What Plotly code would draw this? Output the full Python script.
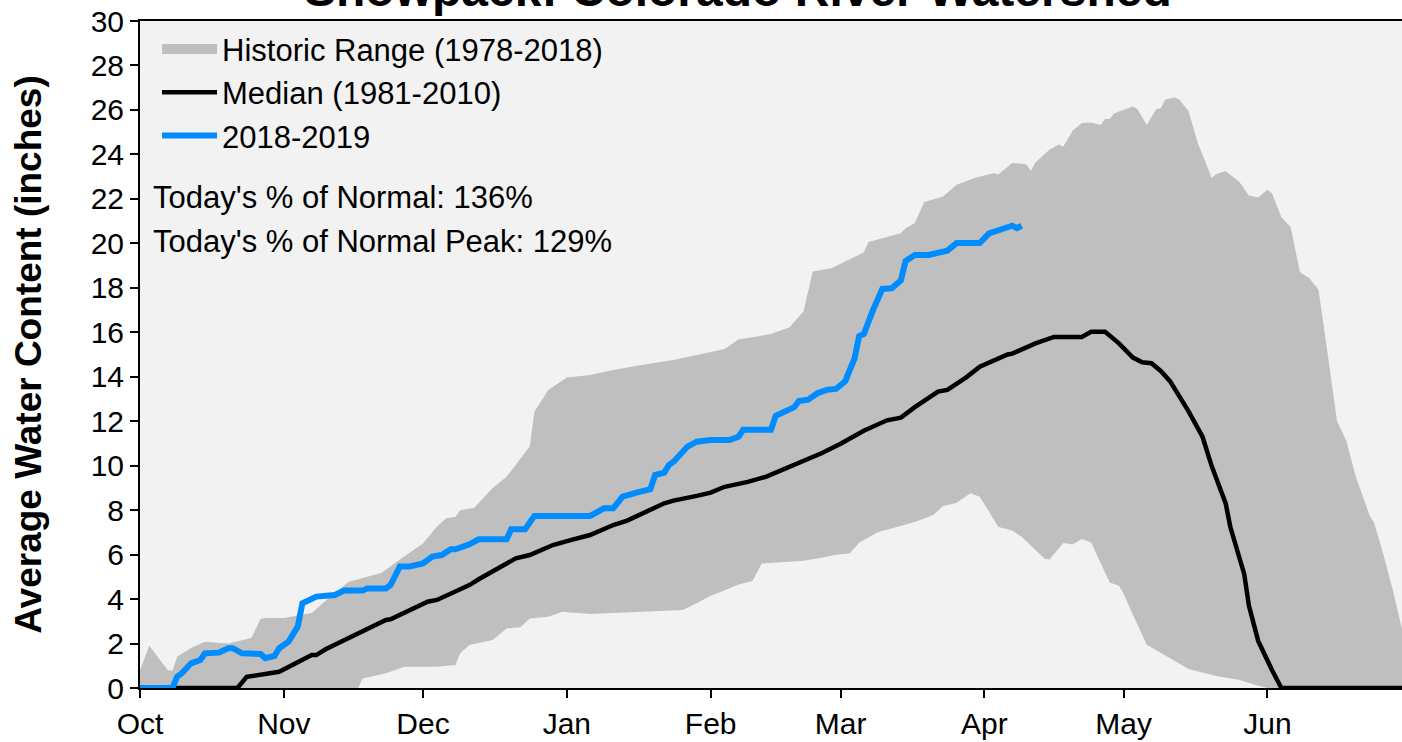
import plotly.graph_objects as go

# ---------------- data ----------------
month_ticks = ["2018-10-01", "2018-11-01", "2018-12-01", "2019-01-01", "2019-02-01",
               "2019-03-01", "2019-04-01", "2019-05-01", "2019-06-01"]
month_labels = ["Oct", "Nov", "Dec", "Jan", "Feb", "Mar", "Apr", "May", "Jun"]

# Historic range upper edge (max)
upper_dates = [
    "2018-10-01", "2018-10-03", "2018-10-07", "2018-10-08", "2018-10-09", "2018-10-12",
    "2018-10-15", "2018-10-20", "2018-10-25", "2018-10-27", "2018-10-28", "2018-11-01",
    "2018-11-07", "2018-11-11", "2018-11-15", "2018-11-22", "2018-11-28", "2018-12-01",
    "2018-12-04", "2018-12-06", "2018-12-08", "2018-12-09", "2018-12-12", "2018-12-16",
    "2018-12-19", "2018-12-21", "2018-12-24", "2018-12-25", "2018-12-28", "2019-01-01",
    "2019-01-06", "2019-01-11", "2019-01-17", "2019-01-24", "2019-01-31", "2019-02-04",
    "2019-02-07", "2019-02-14", "2019-02-18", "2019-02-21", "2019-02-23", "2019-02-27",
    "2019-03-06", "2019-03-07", "2019-03-14", "2019-03-15", "2019-03-17", "2019-03-19",
    "2019-03-23", "2019-03-26", "2019-03-30", "2019-04-03", "2019-04-04", "2019-04-07",
    "2019-04-10", "2019-04-11", "2019-04-12", "2019-04-15", "2019-04-17", "2019-04-18",
    "2019-04-20", "2019-04-22", "2019-04-24", "2019-04-26", "2019-04-27", "2019-04-28",
    "2019-04-29", "2019-05-02", "2019-05-03", "2019-05-04", "2019-05-06", "2019-05-08",
    "2019-05-09", "2019-05-10", "2019-05-12", "2019-05-13", "2019-05-15", "2019-05-17",
    "2019-05-20", "2019-05-21", "2019-05-23", "2019-05-26", "2019-05-28", "2019-05-30",
    "2019-06-01", "2019-06-02", "2019-06-04", "2019-06-06", "2019-06-08", "2019-06-10",
    "2019-06-12", "2019-06-14", "2019-06-16", "2019-06-18", "2019-06-20", "2019-06-23",
    "2019-06-24", "2019-06-26", "2019-06-28", "2019-06-30",
]
upper_vals = [
    0.8, 1.9, 0.8, 0.78, 1.4, 1.8,
    2.08, 2.0, 2.25, 3.1, 3.15, 3.15,
    3.37, 4.1, 4.78, 5.17, 6.07, 6.5,
    7.26, 7.64, 7.7, 8.0, 8.1, 9.0,
    9.5, 10.03, 10.86, 12.43, 13.4, 13.96,
    14.08, 14.3, 14.53, 14.75, 15.05, 15.25,
    15.68, 15.92, 16.23, 16.93, 18.73, 18.88,
    19.59, 20.06, 20.45, 20.68, 20.92, 21.86,
    22.09, 22.64, 22.95, 23.15, 23.1, 23.61,
    23.56, 23.26, 23.64, 24.21, 24.44, 24.35,
    25.06, 25.41, 25.44, 25.32, 25.59, 25.59,
    25.85, 26.08, 26.15, 26.03, 25.32, 26.03,
    26.08, 26.47, 26.56, 26.47, 25.94, 24.5,
    22.94, 23.12, 23.25, 22.75, 22.15, 22.06,
    22.41, 22.24, 21.17, 20.74, 18.7, 18.44,
    17.91, 15.0, 12.0, 11.12, 9.53, 7.77,
    7.42, 6.0, 4.42, 2.65,
]

# Historic range lower edge (min)
lower_dates = [
    "2018-10-01", "2018-11-17", "2018-11-18", "2018-11-23", "2018-11-24", "2018-11-27",
    "2018-12-04", "2018-12-08", "2018-12-09", "2018-12-11", "2018-12-16", "2018-12-19",
    "2018-12-22", "2018-12-24", "2018-12-28", "2018-12-31", "2019-01-06", "2019-01-16",
    "2019-01-26", "2019-01-29", "2019-02-01", "2019-02-05", "2019-02-07", "2019-02-10",
    "2019-02-12", "2019-02-21", "2019-02-24", "2019-02-28", "2019-03-03", "2019-03-05",
    "2019-03-09", "2019-03-17", "2019-03-21", "2019-03-23", "2019-03-26", "2019-03-29",
    "2019-03-31", "2019-04-04", "2019-04-07", "2019-04-09", "2019-04-12", "2019-04-14",
    "2019-04-15", "2019-04-18", "2019-04-20", "2019-04-22", "2019-04-24", "2019-04-25",
    "2019-04-28", "2019-04-30", "2019-05-01", "2019-05-03", "2019-05-06", "2019-05-08",
    "2019-05-11", "2019-05-15", "2019-05-21", "2019-05-26", "2019-05-30", "2019-06-01",
    "2019-06-30",
]
lower_vals = [
    0, 0, 0.43, 0.66, 0.73, 0.96,
    0.96, 1.03, 1.56, 1.93, 2.16, 2.68,
    2.73, 3.13, 3.21, 3.43, 3.33, 3.43,
    3.51, 3.81, 4.15, 4.47, 4.66, 4.81,
    5.6, 5.72, 5.83, 5.99, 6.06, 6.53,
    7.0, 7.47, 7.78, 8.17, 8.33, 8.76,
    8.6, 7.24, 7.08, 6.8, 6.2, 5.81,
    5.78, 6.52, 6.45, 6.7, 6.54, 6.1,
    4.74, 4.6, 4.24, 3.3, 1.95, 1.68,
    1.33, 0.85, 0.54, 0.36, 0.1, 0,
    0,
]

# Median (1981-2010)
median_dates = [
    "2018-10-01", "2018-10-22", "2018-10-24", "2018-10-27", "2018-10-29", "2018-10-31",
    "2018-11-07", "2018-11-08", "2018-11-10", "2018-11-23", "2018-11-24", "2018-12-02",
    "2018-12-04", "2018-12-11", "2018-12-13", "2018-12-16", "2018-12-21", "2018-12-24",
    "2018-12-29", "2019-01-02", "2019-01-06", "2019-01-11", "2019-01-14", "2019-01-22",
    "2019-01-24", "2019-01-29", "2019-02-01", "2019-02-04", "2019-02-09", "2019-02-13",
    "2019-02-19", "2019-02-25", "2019-03-01", "2019-03-06", "2019-03-11", "2019-03-14",
    "2019-03-17", "2019-03-22", "2019-03-24", "2019-03-28", "2019-03-31", "2019-04-03",
    "2019-04-06", "2019-04-07", "2019-04-12", "2019-04-16", "2019-04-22", "2019-04-24",
    "2019-04-27", "2019-04-30", "2019-05-03", "2019-05-05", "2019-05-07", "2019-05-09",
    "2019-05-11", "2019-05-15", "2019-05-18", "2019-05-20", "2019-05-23", "2019-05-24",
    "2019-05-27", "2019-05-28", "2019-05-30", "2019-06-02", "2019-06-04", "2019-06-30",
]
median_vals = [
    0, 0, 0.5, 0.58, 0.66, 0.73,
    1.48, 1.48, 1.74, 3.06, 3.09, 3.88,
    3.96, 4.63, 4.89, 5.23, 5.83, 5.98,
    6.43, 6.66, 6.88, 7.33, 7.53, 8.31,
    8.43, 8.64, 8.79, 9.05, 9.27, 9.51,
    10.05, 10.57, 10.99, 11.57, 12.04, 12.16,
    12.63, 13.33, 13.41, 13.96, 14.45, 14.74,
    15.0, 15.04, 15.5, 15.79, 15.79, 16.02,
    16.02, 15.5, 14.86, 14.65, 14.61, 14.26,
    13.8, 12.44, 11.3, 9.97, 8.3, 7.24,
    5.12, 3.71, 2.12, 0.8, 0, 0,
]

# Water year 2018-2019
wy_dates = [
    "2018-10-01", "2018-10-08", "2018-10-09", "2018-10-10", "2018-10-12", "2018-10-14",
    "2018-10-15", "2018-10-18", "2018-10-20", "2018-10-21", "2018-10-23", "2018-10-27",
    "2018-10-28", "2018-10-30", "2018-10-31", "2018-11-02", "2018-11-04", "2018-11-05",
    "2018-11-08", "2018-11-12", "2018-11-14", "2018-11-18", "2018-11-19", "2018-11-23",
    "2018-11-24", "2018-11-26", "2018-11-28", "2018-12-01", "2018-12-03", "2018-12-05",
    "2018-12-07", "2018-12-08", "2018-12-11", "2018-12-13", "2018-12-19", "2018-12-20",
    "2018-12-23", "2018-12-24", "2018-12-25", "2019-01-06", "2019-01-09", "2019-01-11",
    "2019-01-13", "2019-01-16", "2019-01-19", "2019-01-20", "2019-01-22", "2019-01-23",
    "2019-01-24", "2019-01-27", "2019-01-29", "2019-02-01", "2019-02-05", "2019-02-07",
    "2019-02-08", "2019-02-14", "2019-02-15", "2019-02-19", "2019-02-20", "2019-02-22",
    "2019-02-24", "2019-02-26", "2019-02-28", "2019-03-02", "2019-03-04", "2019-03-05",
    "2019-03-06", "2019-03-08", "2019-03-10", "2019-03-12", "2019-03-14", "2019-03-15",
    "2019-03-17", "2019-03-20", "2019-03-24", "2019-03-26", "2019-03-31", "2019-04-02",
    "2019-04-04", "2019-04-07", "2019-04-08", "2019-04-09",
]
wy_vals = [
    0, 0, 0.51, 0.66, 1.11, 1.26,
    1.56, 1.59, 1.79, 1.79, 1.56, 1.53,
    1.34, 1.44, 1.79, 2.08, 2.76, 3.81,
    4.11, 4.18, 4.38, 4.38, 4.48, 4.48,
    4.63, 5.46, 5.46, 5.6, 5.91, 5.98,
    6.24, 6.24, 6.46, 6.69, 6.69, 7.14,
    7.14, 7.44, 7.74, 7.74, 8.08, 8.08,
    8.61, 8.79, 8.94, 9.58, 9.69, 10.03,
    10.18, 10.86, 11.08, 11.15, 11.15, 11.3,
    11.61, 11.61, 12.24, 12.63, 12.91, 12.97,
    13.26, 13.41, 13.45, 13.8, 14.82, 15.83,
    15.92, 17.01, 17.95, 17.98, 18.34, 19.2,
    19.48, 19.48, 19.67, 20.01, 20.01, 20.45,
    20.56, 20.79, 20.68, 20.79,
]

title_text = "Snowpack: Colorado River Watershed"
note_lines = ["Today's % of Normal: 136%", "Today's % of Normal Peak: 129%"]

# ---------------- figure ----------------
FONT = "Arial, Liberation Sans, sans-serif"
BAND = "#bfbfbf"

fig = go.Figure()
# legend swatch for the band (thick grey line)
fig.add_trace(go.Scatter(
    x=[None], y=[None], mode="lines",
    line=dict(color=BAND, width=16),
    name="Historic Range (1978-2018)",
))
fig.add_trace(go.Scatter(
    x=upper_dates + lower_dates[::-1],
    y=upper_vals + lower_vals[::-1],
    fill="toself", fillcolor=BAND, mode="lines",
    line=dict(width=0, color=BAND),
    name="Historic Range (1978-2018)", hoverinfo="skip", showlegend=False,
))
fig.add_trace(go.Scatter(
    x=median_dates, y=median_vals, mode="lines",
    line=dict(color="black", width=4.5),
    name="Median (1981-2010)",
))
fig.add_trace(go.Scatter(
    x=wy_dates, y=wy_vals, mode="lines",
    line=dict(color="#008cff", width=6),
    name="2018-2019",
))

fig.add_annotation(
    text="<b>" + title_text + "</b>", xref="paper", yref="paper",
    x=0.474, y=1.047, xanchor="center", yanchor="middle", showarrow=False,
    font=dict(family=FONT, size=48, color="black"),
)
for i, line in enumerate(note_lines):
    fig.add_annotation(
        text=line, xref="paper", yref="paper",
        x=0.0085, y=[0.736, 0.670][i], xanchor="left", yanchor="middle",
        showarrow=False, font=dict(family=FONT, size=31, color="black"),
    )

fig.update_layout(
    width=1402, height=742,
    margin=dict(l=140, r=0, t=21, b=54),
    paper_bgcolor="white", plot_bgcolor="#f2f2f2",
    font=dict(family=FONT, size=30, color="black"),
    showlegend=True,
    legend=dict(
        x=0.0135, y=0.998, xanchor="left", yanchor="top",
        bgcolor="rgba(0,0,0,0)", font=dict(family=FONT, size=31),
        itemwidth=55, tracegroupgap=0,
    ),
    xaxis=dict(
        type="date", range=["2018-10-01", "2019-06-30"],
        tickvals=month_ticks, ticktext=month_labels,
        showgrid=False, zeroline=False,
        showline=True, linecolor="black", linewidth=2, mirror=True,
        ticks="outside", ticklen=8, tickwidth=2, tickcolor="black",
        tickfont=dict(family=FONT, size=30),
    ),
    yaxis=dict(
        range=[0, 30], dtick=2, tick0=0,
        showgrid=False, zeroline=False,
        showline=True, linecolor="black", linewidth=2,
        ticks="outside", ticklen=8, tickwidth=2, tickcolor="black",
        tickfont=dict(family=FONT, size=30),
        title=dict(text="<b>Average Water Content (inches)</b>",
                   font=dict(family=FONT, size=37), standoff=38),
    ),
)

fig.write_html("out.html", config={"displayModeBar": False},
               post_script="document.body.style.margin='0';")
